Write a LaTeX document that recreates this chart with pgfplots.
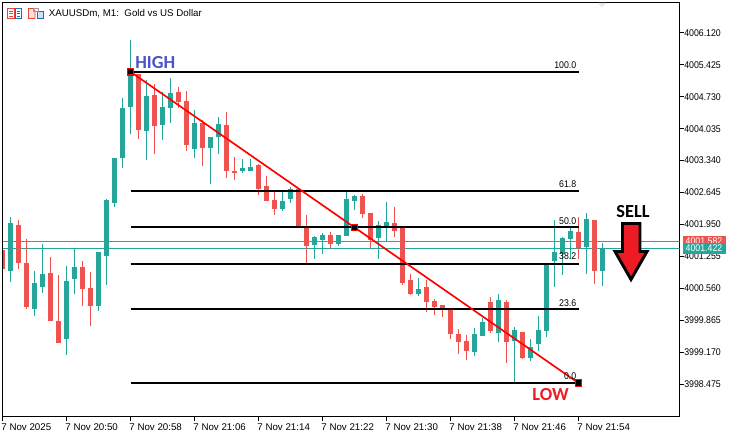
\documentclass[border=0pt]{standalone}
\usepackage{fontspec}
\setmainfont{Liberation Sans}
\newfontfamily\narrowfont[FakeStretch=0.9]{Liberation Sans}
\newfontfamily\labelfont[BoldFont=Carlito Bold]{Carlito}
\usepackage{pgfplots}
\usepackage{pgfplotstable}
\pgfplotsset{compat=1.18}
\definecolor{bull}{HTML}{26A69A}
\definecolor{bear}{HTML}{EF5350}
\definecolor{arrowred}{HTML}{ED1C24}
\definecolor{highblue}{HTML}{4A52CC}
\definecolor{iconred}{HTML}{E8463C}
\definecolor{iconblue}{HTML}{1F6FB4}
\pgfplotstableread{
k top bot high low
1 4001.98 4000.94 4002.12 4000.70
4 4000.68 4000.12 4000.94 3999.97
5 4000.88 4000.59 4001.53 4000.46
8 4000.73 3999.47 4001.05 3999.12
9 4001.03 4000.77 4001.44 4000.44
12 4001.36 4000.18 4001.36 4000.07
13 4002.48 4001.27 4002.51 4000.64
14 4003.40 4002.42 4003.40 4002.33
15 4004.48 4003.40 4004.70 4003.18
16 4005.26 4004.50 4005.96 4003.92
18 4004.74 4003.98 4005.09 4003.35
20 4004.50 4004.11 4004.83 4003.79
21 4004.81 4004.48 4005.13 4004.16
24 4004.16 4003.59 4004.44 4003.40
26 4003.85 4003.61 4003.85 4002.83
27 4004.13 4003.85 4004.29 4003.48
30 4003.18 4003.11 4003.37 4003.07
31 4003.20 4003.11 4003.37 4003.11
35 4002.46 4002.29 4002.66 4002.25
36 4002.72 4002.51 4002.77 4002.42
39 4001.68 4001.51 4001.70 4001.20
40 4001.72 4001.62 4001.77 4001.31
42 4001.72 4001.53 4001.72 4001.49
43 4002.51 4001.70 4002.68 4001.70
44 4002.57 4002.46 4002.59 4002.27
47 4001.94 4001.66 4002.03 4001.20
48 4002.01 4001.92 4002.44 4001.57
52 4000.55 4000.44 4000.79 4000.40
59 3999.57 3999.18 3999.70 3999.10
60 3999.83 3999.53 3999.92 3999.53
62 4000.31 3999.60 4000.44 3999.40
64 3999.66 3999.42 3999.73 3998.53
66 3999.29 3999.05 3999.47 3998.99
67 3999.66 3999.36 3999.97 3999.21
68 4001.07 3999.64 4001.07 3999.51
69 4001.36 4001.16 4002.05 4000.59
70 4001.66 4001.31 4001.68 4000.86
71 4001.81 4001.64 4001.92 4001.20
73 4002.07 4001.46 4002.20 4000.88
75 4001.44 4000.94 4001.55 4000.62
}\bullcandles
\pgfplotstableread{
k top bot high low
0 4001.40 4000.99 4001.40 4000.99
2 4001.94 4001.12 4002.05 4000.99
3 4001.12 4000.16 4001.64 4000.12
6 4000.90 3999.86 4001.25 3999.86
7 3999.86 3999.38 4000.86 3999.38
10 4001.03 4000.55 4001.16 4000.18
11 4000.57 4000.18 4000.92 3999.75
17 4005.22 4004.00 4005.22 4003.81
19 4004.76 4004.09 4005.00 4003.48
22 4004.83 4004.61 4004.94 4004.48
23 4004.63 4003.68 4004.85 4003.55
25 4004.16 4003.61 4004.22 4003.22
28 4004.11 4003.11 4004.40 4002.96
29 4003.11 4003.07 4003.42 4002.92
32 4003.24 4002.72 4003.27 4002.59
33 4002.79 4002.46 4003.01 4002.46
34 4002.48 4002.29 4002.66 4002.16
37 4002.72 4001.90 4002.72 4001.90
38 4001.92 4001.49 4002.16 4001.12
41 4001.72 4001.53 4001.79 4001.44
45 4002.57 4002.18 4002.61 4002.09
46 4002.20 4001.62 4002.20 4001.44
49 4001.98 4001.81 4002.33 4001.68
50 4001.88 4000.68 4001.88 4000.64
51 4000.75 4000.44 4000.88 4000.42
53 4000.59 4000.27 4000.75 4000.05
54 4000.29 4000.16 4000.33 3999.99
55 4000.20 4000.12 4000.20 3999.94
56 4000.10 3999.57 4000.10 3999.47
57 3999.57 3999.40 3999.68 3999.14
58 3999.42 3999.21 3999.55 3999.01
61 4000.27 3999.64 4000.38 3999.60
63 4000.27 3999.40 4000.31 3998.94
65 3999.62 3999.05 3999.62 3999.03
72 4001.79 4001.44 4002.12 4001.20
74 4002.05 4000.94 4002.05 4000.66
}\bearcandles
\newcommand{\candles}[2]{%
  \addplot[draw=none, mark=none, forget plot,
    error bars/.cd, y dir=both, y explicit, error mark=none,
    error bar style={line width=0.75pt, color=#2}]
    table[x=k, y=top, y error plus expr=\thisrow{high}-\thisrow{top}, y error minus expr=\thisrow{top}-\thisrow{low}] {#1};
  \addplot[draw=none, mark=none, forget plot,
    error bars/.cd, y dir=minus, y explicit, error mark=none,
    error bar style={line width=3.75pt, color=#2}]
    table[x=k, y=top, y error minus expr=\thisrow{top}-\thisrow{bot}] {#1};
}
\newcommand{\fib}[1]{\addplot[black, line width=1.5pt, forget plot] coordinates {(16,#1) (72,#1)};}
\begin{document}
\begin{tikzpicture}[font=\fontsize{7.3pt}{8.5pt}\selectfont]
\useasboundingbox (0,0) rectangle (550.5pt,325.5pt);
\begin{axis}[
  at={(1.875pt,13.125pt)}, anchor=south west,
  scale only axis, width=507.75pt, height=310.5pt,
  xmin=0, xmax=84.625, ymin=3997.783, ymax=4006.775,
  axis line style={line width=0.75pt},
  tick style={black, line width=0.75pt},
  tick align=outside, major tick length=3.4pt,
  axis x line*=bottom, axis y line*=right,
  xtick={0,8,16,24,32,40,48,56,64,72},
  xticklabels={7 Nov 2025,7 Nov 20:50,7 Nov 20:58,7 Nov 21:06,7 Nov 21:14,7 Nov 21:22,7 Nov 21:30,7 Nov 21:38,7 Nov 21:46,7 Nov 21:54},
  xticklabel style={anchor=north west, xshift=-1pt, yshift=1.5pt, inner xsep=0pt},
  ytick={4006.120,4005.425,4004.730,4004.035,4003.340,4002.645,4001.950,4001.255,4000.560,3999.865,3999.170,3998.475},
  yticklabels={4006.120,4005.425,4004.730,4004.035,4003.340,4002.645,4001.950,4001.255,4000.560,3999.865,3999.170,3998.475},
  yticklabel style={anchor=west, xshift=0pt, inner xsep=0pt, font=\narrowfont\fontsize{7.3pt}{8.5pt}\selectfont},
  clip=true,
]
\addplot[bear, line width=0.75pt, forget plot] coordinates {(0,4001.582) (84.625,4001.582)};
\addplot[bull, line width=0.75pt, forget plot] coordinates {(0,4001.422) (84.625,4001.422)};
\candles{\bullcandles}{bull}
\candles{\bearcandles}{bear}
\fib{4005.27}
\fib{4002.69}
\fib{4001.89}
\fib{4001.09}
\fib{4000.11}
\fib{3998.51}
\addplot[red, line width=1.25pt, forget plot] coordinates {(16,4005.27) (72,3998.51)};
\addplot[only marks, mark=square*, mark size=2.4pt, mark options={fill=black, draw=red, line width=0.9pt}, forget plot]
  coordinates {(16,4005.27) (44,4001.89) (72,3998.51)};
\end{axis}
\begin{scope}[x=0.75pt, y=-0.75pt, shift={(0,325.5pt)}]
  % top and left frame
  \draw[black, line width=0.75pt] (2.5,416.5) -- (2.5,2.5) -- (679.5,2.5);
  % ghost triangle
  \fill[black!9] (598,3) -- (606,3) -- (602,7.5) -- cycle;
  % title icons
  \draw[iconred, line width=0.6pt] (7.5,8.5) rectangle (14.5,18.5);
  \draw[iconblue, line width=0.6pt] (15,8.5) rectangle (21.5,18.5);
  \foreach \yy in {11,13.5,16} {
    \draw[iconred, line width=0.6pt] (9,\yy) -- (13,\yy);
    \draw[iconblue, line width=0.6pt] (16.5,\yy) -- (20,\yy);
  }
  \draw[iconred, fill=iconred!15, line width=0.6pt] (28.5,8.5) -- (33,8.5) -- (35,11) -- (35,18.5) -- (28.5,18.5) -- cycle;
  \draw[iconblue, fill=iconblue!20, line width=0.6pt] (37,11) -- (43,11) -- (43,18.5) -- (37,18.5) -- cycle;
  \draw[black!40, line width=0.6pt] (33.5,8) rectangle (38,11);
  \node[anchor=west, inner sep=0pt] at (48.5,13.5) {XAUUSDm, M1:\ \ Gold vs US Dollar};
  % fib labels
  \foreach \lab/\yy in {100.0/65, 61.8/183.7, 50.0/221, 38.2/256, 23.6/302.7, 0.0/375.7}
    \node[anchor=east, inner sep=0pt] at (576.5,\yy) {\narrowfont\lab};
  % annotations
  \node[anchor=west, inner sep=0pt, text=highblue] at (135,63) {\labelfont\bfseries\fontsize{13.8pt}{15pt}\selectfont HIGH};
  \node[anchor=center, inner sep=0pt, text=black] at (633,212) {\labelfont\bfseries\fontsize{13.8pt}{15pt}\selectfont SELL};
  \node[anchor=center, inner sep=0pt, text=arrowred] at (550.5,394.5) {\labelfont\bfseries\fontsize{13.8pt}{15pt}\selectfont LOW};
  % arrow
  \draw[fill=arrowred, draw=black, line width=2.2pt, line join=miter]
    (622.5,223.5) -- (640,223.5) -- (640,251.5) -- (647,251.5) -- (631,279.5) -- (615,251.5) -- (622.5,251.5) -- cycle;
  % price tags
  \fill[bear] (682.5,236) rectangle (726,247);
  \node[anchor=center, inner sep=0pt, text=white] at (704,241.5) {\narrowfont 4001.582};
  \fill[bull] (682.5,243) rectangle (726,254);
  \node[anchor=center, inner sep=0pt, text=white] at (704,248.5) {\narrowfont 4001.422};
\end{scope}
\end{tikzpicture}
\end{document}
